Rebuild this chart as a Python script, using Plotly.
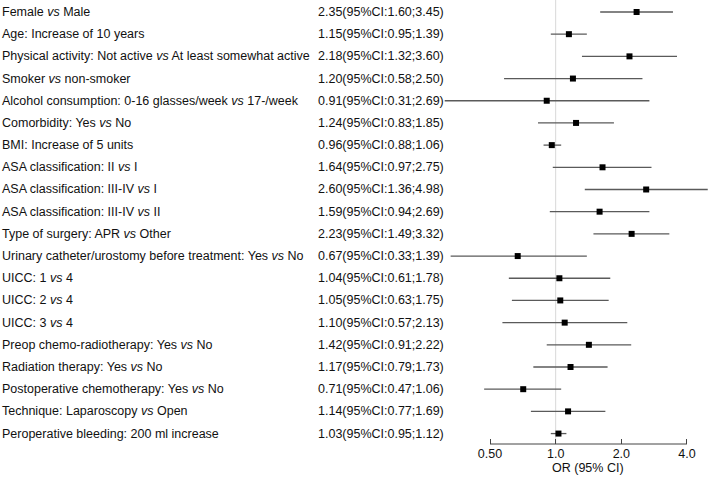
import math
import plotly.graph_objects as go

labels = [
    "Female <i>vs</i> Male",
    "Age: Increase of 10 years",
    "Physical activity: Not active <i>vs</i> At least somewhat active",
    "Smoker <i>vs</i> non-smoker",
    "Alcohol consumption: 0-16 glasses/week <i>vs</i> 17-/week",
    "Comorbidity: Yes <i>vs</i> No",
    "BMI: Increase of 5 units",
    "ASA classification: II <i>vs</i> I",
    "ASA classification: III-IV <i>vs</i> I",
    "ASA classification: III-IV <i>vs</i> II",
    "Type of surgery: APR <i>vs</i> Other",
    "Urinary catheter/urostomy before treatment: Yes <i>vs</i> No",
    "UICC: 1 <i>vs</i> 4",
    "UICC: 2 <i>vs</i> 4",
    "UICC: 3 <i>vs</i> 4",
    "Preop chemo-radiotherapy: Yes <i>vs</i> No",
    "Radiation therapy: Yes <i>vs</i> No",
    "Postoperative chemotherapy: Yes <i>vs</i> No",
    "Technique: Laparoscopy <i>vs</i> Open",
    "Peroperative bleeding: 200 ml increase",
]
or_vals = [2.35, 1.15, 2.18, 1.20, 0.91, 1.24, 0.96, 1.64, 2.60, 1.59,
           2.23, 0.67, 1.04, 1.05, 1.10, 1.42, 1.17, 0.71, 1.14, 1.03]
ci_low = [1.60, 0.95, 1.32, 0.58, 0.31, 0.83, 0.88, 0.97, 1.36, 0.94,
          1.49, 0.33, 0.61, 0.63, 0.57, 0.91, 0.79, 0.47, 0.77, 0.95]
ci_high = [3.45, 1.39, 3.60, 2.50, 2.69, 1.85, 1.06, 2.75, 4.98, 2.69,
           3.32, 1.39, 1.78, 1.75, 2.13, 2.22, 1.73, 1.06, 1.69, 1.12]
tick_vals = [0.5, 1.0, 2.0, 4.0]
tick_text = ["0.50", "1.0", "2.0", "4.0"]

W, H = 709, 481
FONT = "Liberation Sans, Arial, Helvetica, sans-serif"
FS = 12.5
n = len(labels)
rows = list(range(n))

fig = go.Figure()

# CI lines
for i in rows:
    fig.add_trace(go.Scatter(
        x=[ci_low[i], ci_high[i]], y=[i, i], mode="lines",
        line=dict(color="#5a5a5a", width=1.3), hoverinfo="skip", showlegend=False))

# point estimates
fig.add_trace(go.Scatter(
    x=or_vals, y=rows, mode="markers",
    marker=dict(symbol="square", size=6, color="black"),
    showlegend=False))

# reference line at 1.0
fig.add_shape(type="line", xref="x", yref="paper", x0=1.0, x1=1.0, y0=0, y1=1,
              line=dict(color="#d8d8d8", width=1), layer="below")
# axis line spanning the tick range
fig.add_shape(type="line", xref="x", yref="paper", x0=min(tick_vals), x1=max(tick_vals),
              y0=0, y1=0, line=dict(color="#444444", width=1))

# text annotations
for i in rows:
    fig.add_annotation(x=0, xref="paper", y=i, yref="y", text=labels[i],
                       showarrow=False, xanchor="left", yanchor="middle",
                       font=dict(family=FONT, size=FS, color="#111111"))
    fig.add_annotation(x=316 / W, xref="paper", y=i, yref="y",
                       text=f"{or_vals[i]:.2f}(95%CI:{ci_low[i]:.2f};{ci_high[i]:.2f})",
                       showarrow=False, xanchor="left", yanchor="middle",
                       font=dict(family=FONT, size=FS, color="#111111"))

mid = math.sqrt(min(tick_vals) * max(tick_vals))
fig.add_annotation(x=math.log10(mid), xref="x", y=-0.033, yref="paper", text="OR (95% CI)",
                   showarrow=False, xanchor="center", yanchor="top",
                   font=dict(family=FONT, size=FS, color="#111111"))

fig.update_layout(
    width=W, height=H,
    margin=dict(l=0, r=0, t=0, b=37),
    plot_bgcolor="white", paper_bgcolor="white",
    xaxis=dict(type="log", domain=[443 / W, 1], range=[-0.5165, 0.703],
               tickvals=tick_vals, ticktext=tick_text, ticks="inside", ticklen=5,
               tickcolor="#444444", showgrid=False, zeroline=False, showline=False,
               tickfont=dict(family=FONT, size=FS, color="#111111")),
    yaxis=dict(range=[19.47, -0.54], visible=False, showgrid=False, zeroline=False),
)

fig.write_html("out.html", config={"displayModeBar": False},
               post_script="document.body.style.margin='0';")
